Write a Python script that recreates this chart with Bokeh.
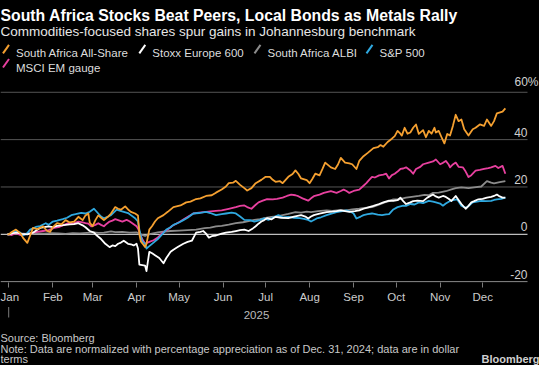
import pandas as pd
from bokeh.plotting import figure
from bokeh.layouts import column
from bokeh.models import Range1d, FixedTicker, Label, Arrow
from bokeh.embed import file_html
from bokeh.resources import INLINE

# ---------------- data (days after 2025-01-01, % change since Dec 31, 2024) ----------------
ALLSHARE_DAYS = [-1, 0, 2, 5, 8, 10, 13, 15, 17, 20, 24, 27, 29, 31, 34, 37, 40, 43, 46, 49, 52, 54, 56, 57, 59, 61, 63, 65, 67, 70,
                 72, 75, 77, 79, 82, 84, 86, 89, 91, 92, 93, 95, 96, 97, 99, 101, 103, 105, 109, 112, 116, 121, 125, 128, 132, 135,
                 139, 143, 146, 150, 153, 155, 158, 160, 163, 166, 168, 171, 174, 178, 181, 184, 186, 188, 191, 193, 197, 200, 202,
                 204, 206, 210, 212, 214, 216, 219, 221, 223, 227, 230, 232, 234, 237, 240, 242, 245, 247, 250, 253, 257, 260, 262,
                 264, 267, 270, 272, 274, 276, 277, 279, 281, 283, 285, 287, 289, 292, 294, 296, 298, 300, 301, 303, 305, 307, 309,
                 311, 313, 315, 317, 319, 321, 324, 327, 329, 332, 335, 337, 340, 342, 344, 348, 350]
ALLSHARE_PCT = [0, 0, 1, 2, 0.5, -1.5, -3.6, -0.5, 2.7, 2.2, 3.4, 1.4, 1.0, 3, 4.7, 4.2, 6, 5, 5.4, 7.4, 6, 8, 8.8, 5, 3.4, 6, 8, 7, 6, 7.5,
                8.8, 11.5, 10.8, 10.4, 11.8, 10.5, 9.5, 8.8, 8, 0, -3, -4.5, -5.4, -4, 2, 3.5, 5.4, 6.8, 8.1, 9.5, 11.5, 12.2, 13.5, 13.8, 14.9, 15.2,
                16.2, 16.5, 17.6, 18.9, 20.2, 21.6, 21.8, 22.6, 20.9, 19.5, 18.5, 19.5, 21.6, 23, 24.3, 24.3, 23, 22.2, 22.5, 21.6, 24.3, 25.5, 27,
                25.6, 23.6, 22.9, 21.6, 23.5, 25.6, 24.9, 27.5, 30.3, 28.3, 27.6, 29.5, 32.3, 30.3, 30, 29.6, 27.6, 31, 33, 34.4, 36.4, 36.8, 37.7,
                37, 39, 40.4, 41.5, 43.7, 42.5, 41.7, 45, 42.5, 43, 45, 46.4, 42.4, 44, 41, 43.7, 42.5, 45, 43, 43.7, 41, 38.4, 42.4,
                41.7, 45.8, 50.5, 47.8, 48.5, 44.4, 41.7, 44.4, 45, 46.4, 45.8, 48.5, 45.8, 47.8, 51.1, 51.8, 53.2]

STOXX_DAYS = [-1, 0, 3, 6, 9, 13, 17, 19, 22, 25, 28, 31, 34, 37, 40, 43, 46, 49, 52, 54, 57, 60, 62, 65, 68, 71, 73, 75, 77, 79,
              81, 84, 86, 88, 90, 91, 92, 94, 96, 97, 99, 101, 103, 106, 109, 111, 114, 116, 119, 123, 126, 129, 132, 135, 137, 139,
              141, 143, 146, 150, 153, 157, 160, 163, 166, 169, 172, 174, 176, 178, 180, 182, 185, 188, 192, 197, 201, 206, 209, 211,
              213, 215, 219, 224, 228, 231, 234, 237, 240, 244, 247, 250, 254, 257, 261, 264, 268, 271, 274, 276, 278, 280, 283, 285,
              288, 292, 295, 299, 301, 303, 306, 308, 310, 312, 315, 317, 319, 322, 324, 326, 328, 331, 334, 337, 340, 342, 344, 346,
              348, 350]
STOXX_PCT = [0, 0, 0.5, 0.7, 0.2, 0, 0.7, 1.5, 2.7, 3, 3.4, 3, 3.6, 3.8, 4, 4.2, 4.3, 4.7, 3.8, 3, 1.4, 0.7, -0.5, -2, -4, -5.4, -4.7, -5, -4, -3.5,
             -2.7, -4, -4.2, -4.7, -4, -6, -12.8, -13, -13.2, -15.5, -7.4, -8, -8.8, -10, -12.2, -10, -7.4, -6.5, -5.4, -4, -3.2, -2.7, 0.7, 1, 1.4, 0.3,
             -1.4, -0.8, -0.5, 0.3, 0.7, 1, 1.4, 1.8, 2, 1.4, 2.5, 3.4, 4.5, 5.4, 6, 6.8, 6.3, 7.4, 7, 6.8, 7.5, 8.1, 7.5, 6.7,
             7.5, 8.1, 8.7, 9.4, 9.6, 9.8, 10.1, 9.8, 9.5, 9.8, 10.1, 10.8, 11.5, 12, 12.8, 13.5, 14.2, 14.1, 14.4, 15.5, 14, 12.8, 13.5, 14,
             14.2, 14, 15.5, 16.8, 16, 15.5, 16.2, 15.8, 15, 14.1, 16.2, 14.5, 12.8, 10.8, 12, 13.5, 14, 14.8, 15, 15.5, 15.8, 16.2, 16.8, 16,
             15.5, 15.5]

ALBI_DAYS = [-1, 0, 5, 10, 15, 20, 25, 30, 35, 40, 45, 50, 55, 60, 63, 67, 72, 75, 80, 85, 90, 93, 96, 100, 105, 110, 114, 120, 126,
             132, 138, 142, 146, 150, 155, 160, 165, 169, 173, 177, 181, 185, 189, 193, 197, 202, 206, 210, 213, 218, 224, 228, 233,
             238, 242, 247, 251, 256, 260, 265, 268, 271, 275, 280, 284, 289, 293, 296, 299, 303, 308, 312, 315, 319, 324, 328, 333,
             337, 340, 342, 346, 350]
ALBI_PCT = [0, 0, 0.2, 0.3, 0.1, 0.4, 0.3, 0.5, 0.4, 0.2, 0.5, 0.4, 0.6, 0.8, 0.6, 0.7, 1.2, 0.9, 1.0, 0.7, 0.8, 0, -0.7, 0.2, 0.8, 1.2, 1.4, 1.6, 1.8,
            2, 2.6, 2.8, 3.4, 3.6, 4.1, 4.7, 5.1, 5.6, 6.1, 6.4, 6.9, 7.4, 7.6, 8.1, 8.6, 9.4, 9.2, 9.6, 9.4, 9.8, 10.1, 9.9, 10.2,
            10.1, 10.5, 10.8, 11.2, 11.5, 12.3, 13.5, 14, 14.8, 14.8, 15.5, 15.8, 16.2, 16.7, 16.5, 17.5, 17.6, 18.2, 19, 19.5, 19.8, 19.5, 19.8, 20.2,
            22.5, 21.8, 21.5, 22, 22.5]

SPX_DAYS = [-1, 0, 3, 5, 8, 10, 13, 15, 17, 19, 22, 26, 28, 31, 34, 38, 41, 44, 47, 51, 54, 57, 60, 63, 65, 67, 70, 72, 76, 78,
            81, 84, 86, 89, 91, 92, 94, 96, 97, 99, 102, 105, 108, 111, 114, 116, 120, 123, 126, 130, 134, 139, 142, 146, 150, 153,
            157, 160, 163, 166, 170, 173, 177, 180, 183, 186, 190, 193, 197, 201, 205, 208, 211, 213, 217, 220, 224, 228, 231, 235,
            238, 241, 243, 245, 248, 250, 253, 256, 260, 263, 266, 268, 271, 274, 278, 280, 283, 286, 289, 292, 296, 299, 301, 304,
            306, 308, 311, 313, 316, 319, 321, 323, 325, 327, 330, 333, 336, 340, 342, 344, 347, 350]
SPX_PCT = [0, 0, 0.8, 1.4, 0.7, -0.5, 0.5, 2, 2.5, 3.1, 3.5, 4.7, 4, 5.4, 5.8, 6.4, 7, 8.1, 8.5, 9.1, 8.8, 9.5, 10.8, 8.8, 7.5, 6.8, 7.5, 8.1, 10.4, 10,
           9.5, 9, 8.1, 6.8, 5.4, 2, -3, -4, -6, -5, -3.5, -2, 0, 2, 3, 4, 5, 6, 7, 8.8, 9, 9.5, 9, 8.1, 8.5, 8.8,
           9.2, 8.8, 7.5, 6.1, 6, 5.4, 6, 6.7, 6.1, 7, 8.1, 7.2, 7.4, 7, 6.8, 6.5, 6.1, 5.4, 6.7, 7.2, 8.1, 8.8, 9.4, 9.8,
           10.1, 9.5, 8.8, 6.7, 7.5, 8.1, 8.5, 8.8, 8.3, 8.1, 8.4, 8.5, 10.5, 11.5, 12.1, 12, 12.8, 12.6, 13.5, 13.2, 14.1, 13.8, 13.5, 13,
           12.1, 13, 14.1, 14.4, 14.8, 12.1, 11.5, 11.4, 12.5, 13.5, 13.8, 14.1, 14, 14.1, 14.5, 14.8, 15, 15.5]

MSCI_DAYS = [-1, 0, 2, 5, 8, 13, 17, 20, 24, 28, 32, 35, 38, 42, 45, 49, 52, 54, 56, 58, 61, 63, 65, 67, 69, 71, 73, 75, 77, 80,
             83, 85, 87, 90, 91, 92, 94, 96, 99, 102, 105, 108, 112, 115, 118, 121, 125, 130, 134, 139, 144, 150, 155, 160, 163, 166,
             168, 171, 174, 176, 179, 182, 186, 189, 193, 196, 199, 202, 204, 207, 211, 213, 215, 219, 222, 227, 231, 234, 236, 238,
             240, 243, 247, 250, 252, 254, 256, 258, 261, 264, 266, 268, 270, 272, 274, 276, 278, 280, 283, 285, 287, 290, 292, 296,
             299, 301, 304, 306, 308, 310, 311, 313, 315, 317, 320, 322, 324, 326, 329, 332, 335, 338, 340, 343, 345, 348, 350]
MSCI_PCT = [0, 0, -0.3, 0.5, -0.3, 0.2, 0.7, 1, 1.4, 1.8, 2.7, 3, 3.8, 4.7, 4.5, 5.4, 5, 4.7, 4.5, 3.4, 4, 4.7, 4, 3.4, 4.5, 5.4, 5.8, 6.4, 6, 5.4,
            6.1, 5.5, 4.7, 3.4, 2.5, 1, -2, -4, -3.2, -2.5, -1.4, 0.5, 2, 3.5, 4.5, 5.5, 7, 8.8, 9.2, 9.5, 9.8, 10.1, 10.8, 11.5, 12, 12.2,
            11.5, 10.8, 12.5, 13.5, 14.2, 14.9, 14.8, 15, 15.5, 16.2, 16.8, 16.5, 16.1, 15.2, 14.2, 15.2, 16.1, 16.8, 17.5, 18.2, 17.5, 18.3, 18.9, 18.3,
            17.5, 18.3, 18.9, 20.5, 21.6, 23, 24.3, 24, 24.9, 25.2, 25.6, 23.6, 25, 25.6, 26.5, 27.6, 27.8, 28.3, 27, 25.6, 27.6, 28.5, 29.6, 30.3,
            30.8, 31.6, 29.6, 30.2, 31, 29.5, 28.3, 29.5, 30.3, 28.5, 28.3, 26.5, 24.2, 25, 26.9, 27.2, 27.6, 28, 28.3, 28.9, 28, 28.9, 25.6]

SERIES_NAMES = ["South Africa All-Share", "Stoxx Europe 600", "South Africa ALBI", "S&P 500", "MSCI EM gauge"]
SERIES_COLORS = ["#f5a030", "#ffffff", "#8c8c8c", "#2fa9e0", "#e8409f"]
GRID_TICKS = [20, 40, 60]
Y_TICKS = [-20, 0, 20, 40, 60]
Y_TICK_LABELS = ["-20", "0", "20", "40", "60%"]
MONTH_STARTS = ["2025-%02d-01" % m for m in range(1, 13)]
MONTH_LABELS = ["Jan", "Feb", "Mar", "Apr", "May", "Jun", "Jul", "Aug", "Sep", "Oct", "Nov", "Dec"]
YEAR_LABEL = "2025"

TITLE = "South Africa Stocks Beat Peers, Local Bonds as Metals Rally"
SUBTITLE = "Commodities-focused shares spur gains in Johannesburg benchmark"
SOURCE = "Source: Bloomberg"
NOTE1 = "Note: Data are normalized with percentage appreciation as of Dec. 31, 2024; data are in dollar"
NOTE2 = "terms"
BRAND = "Bloomberg"

BASE = pd.Timestamp("2025-01-01")
X_START_DAY, X_GRID_END_DAY = -5.9, 365.6


def to_dates(days):
    return [BASE + pd.Timedelta(days=d) for d in days]


FONT = "Liberation Sans"
BG = "#000000"
W = 539
HEAD_H, MAIN_H, FOOT_H = 74, 232, 59
FRAME_H = 208            # main frame height
Y_MIN = -20.35
PX_PER_PCT = 2.3675
Y_MAX = Y_MIN + FRAME_H / PX_PER_PCT
GRID_W = 527             # width over which grid lines run

px_per_day = GRID_W / (X_GRID_END_DAY - X_START_DAY)
x_end_day = X_START_DAY + W / px_per_day


def strip(h):
    f = figure(width=W, height=h, output_backend="svg", toolbar_location=None,
               x_range=Range1d(0, W), y_range=Range1d(h, 0),
               min_border=0, x_axis_location=None, y_axis_location=None)
    f.background_fill_color = BG
    f.border_fill_color = BG
    f.outline_line_color = None
    f.grid.visible = False
    return f


def text(f, x, y, s, size="11.5px", color="#c8c8c8", bold=False, align="left"):
    f.add_layout(Label(x=x, y=y, text=s, text_font=FONT, text_font_size=size,
                       text_font_style="bold" if bold else "normal", text_color=color,
                       text_align=align, text_baseline="alphabetic"))


# ---------------- header ----------------
head = strip(HEAD_H)
text(head, 0, 15.0, TITLE, size="15.8px", color="#ffffff", bold=True)
text(head, 0, 30.6, SUBTITLE, size="13.5px", color="#e6e6e6")
legend_pos = [(5.5, 52.8), (141.8, 52.8), (257.0, 52.8), (369.0, 52.8), (5.5, 67.0)]
for (lx, ly), name, col in zip(legend_pos, SERIES_NAMES, SERIES_COLORS):
    head.add_layout(Arrow(end=None, x_start=lx - 3, y_start=ly, x_end=lx + 3, y_end=ly - 8.5,
                          line_color=col, line_width=2))
    text(head, lx + 10, ly, name, size="11.5px", color="#dddddd")

# ---------------- main chart ----------------
p = figure(width=W, height=MAIN_H, x_axis_type="datetime", y_axis_location=None,
           output_backend="svg", toolbar_location=None,
           x_range=Range1d(BASE + pd.Timedelta(days=X_START_DAY), BASE + pd.Timedelta(days=x_end_day)),
           y_range=Range1d(Y_MIN, Y_MAX),
           min_border_left=0, min_border_right=0, min_border_top=0,
           min_border_bottom=MAIN_H - FRAME_H)
p.background_fill_color = BG
p.border_fill_color = BG
p.outline_line_color = None
p.grid.visible = False

x0 = BASE + pd.Timedelta(days=X_START_DAY)
x1 = BASE + pd.Timedelta(days=X_GRID_END_DAY)
p.segment(x0=[x0] * len(GRID_TICKS), x1=[x1] * len(GRID_TICKS), y0=GRID_TICKS, y1=GRID_TICKS,
          line_color="#555555", line_width=1)
p.segment(x0=[x0], x1=[x1], y0=[-20], y1=[-20], line_color="#7a7a7a", line_width=1.2)
p.segment(x0=[x0], x1=[x1], y0=[0], y1=[0], line_color="#bdbdbd", line_width=1.2)

tick_ms = [pd.Timestamp(d).value // 10**6 for d in MONTH_STARTS]
p.xaxis.ticker = FixedTicker(ticks=tick_ms)
p.xaxis.major_label_overrides = {t: lab for t, lab in zip(tick_ms, MONTH_LABELS)}
p.xaxis.axis_line_color = None
p.xaxis.major_tick_line_color = "#7a7a7a"
p.xaxis.major_tick_out = 5
p.xaxis.major_tick_in = 0
p.xaxis.minor_tick_out = 0
p.xaxis.minor_tick_in = 0
p.xaxis.major_label_standoff = 3
p.xaxis.major_label_text_color = "#cccccc"
p.xaxis.major_label_text_font = FONT
p.xaxis.major_label_text_font_size = "11.5px"

series = {
    "South Africa All-Share": (ALLSHARE_DAYS, ALLSHARE_PCT),
    "Stoxx Europe 600": (STOXX_DAYS, STOXX_PCT),
    "South Africa ALBI": (ALBI_DAYS, ALBI_PCT),
    "S&P 500": (SPX_DAYS, SPX_PCT),
    "MSCI EM gauge": (MSCI_DAYS, MSCI_PCT),
}
color_of = dict(zip(SERIES_NAMES, SERIES_COLORS))
for name in ["South Africa ALBI", "MSCI EM gauge", "S&P 500", "Stoxx Europe 600", "South Africa All-Share"]:
    d, v = series[name]
    p.line(to_dates(d), v, line_color=color_of[name], line_width=1.8, line_join="round")

for t, lab in zip(Y_TICKS, Y_TICK_LABELS):
    p.add_layout(Label(x=x1, y=t, text=lab, y_offset=3, x_offset=(11 if lab.endswith("%") else 0),
                       text_align="right", text_baseline="bottom", text_color="#d0d0d0",
                       text_font=FONT, text_font_size="12px"))

# ---------------- footer ----------------
foot = strip(FOOT_H)
text(foot, 256, 8, YEAR_LABEL, color="#bbbbbb", align="center")
foot.add_layout(Arrow(end=None, x_start=8.2, y_start=0.5, x_end=8.2, y_end=11, line_color="#7a7a7a", line_width=1))
text(foot, 0, 31.5, SOURCE, size="11px")
text(foot, 0, 42.0, NOTE1, size="11px")
text(foot, 0, 52.5, NOTE2, size="11px")
text(foot, W, 52.5, BRAND, size="11px", color="#d0d0d0", bold=True, align="right")

layout = column(head, p, foot, spacing=0)
layout.styles = {"background-color": BG}
open("out.html", "w").write(file_html(layout, INLINE))
